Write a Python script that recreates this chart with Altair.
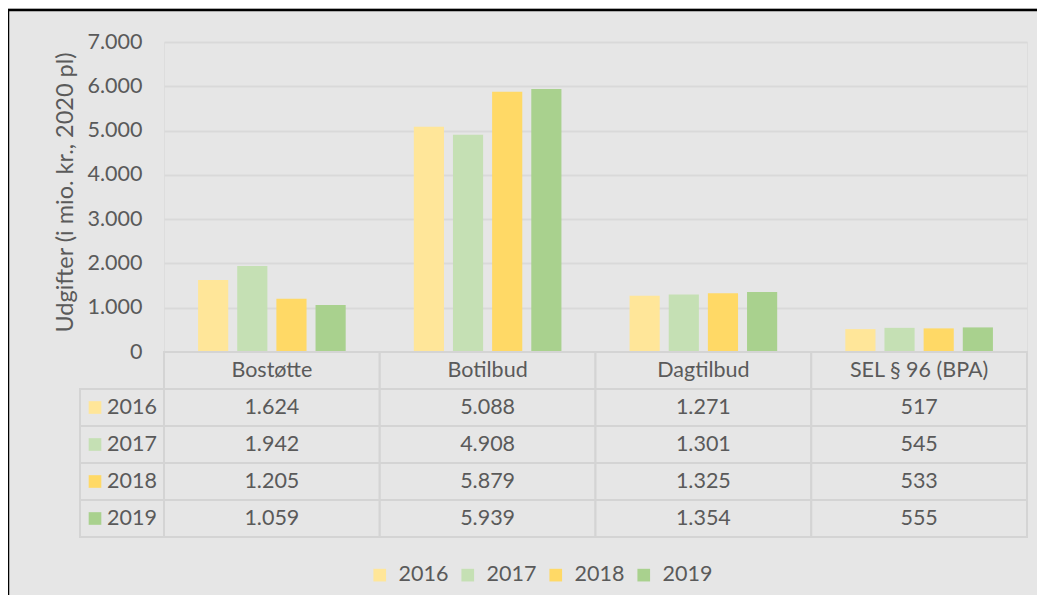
import altair as alt
import pandas as pd

categories = ["Bostøtte", "Botilbud", "Dagtilbud", "SEL § 96 (BPA)"]
years = ["2016", "2017", "2018", "2019"]
values_2016 = [1624, 5088, 1271, 517]
values_2017 = [1942, 4908, 1301, 545]
values_2018 = [1205, 5879, 1325, 533]
values_2019 = [1059, 5939, 1354, 555]
colors = ["#FFE699", "#C5E0B4", "#FFD966", "#A9D18E"]
y_ticks = [0, 1000, 2000, 3000, 4000, 5000, 6000, 7000]
y_title = "Udgifter (i mio. kr., 2020 pl)"

FONT = "Lato"
TXT = "#5a5a5a"
LINE = "#d4d4d4"
FS = 21.5

rows = []
for yr, vals in zip(years, [values_2016, values_2017, values_2018, values_2019]):
    for c, v in zip(categories, vals):
        rows.append({"Kategori": c, "År": yr, "Række": yr, "Udgift": v,
                     "Tekst": f"{v:,}".replace(",", ".")})
df = pd.DataFrame(rows)
header = pd.DataFrame({"Kategori": categories, "Række": ["hdr"] * len(categories)})
year_rows = pd.DataFrame({"År": years, "Række": years})
frame = pd.DataFrame({"k": [0]})

row_domain = ["hdr"] + years
row_scale = alt.Scale(domain=row_domain, range=[310, 495], paddingInner=0, paddingOuter=0)
x_enc = alt.X("Kategori:N", sort=categories, title=None, axis=None,
              scale=alt.Scale(domain=categories, paddingInner=0, paddingOuter=0))
color_enc = alt.Color("År:N", scale=alt.Scale(domain=years, range=colors),
                      legend=alt.Legend(title=None, orient="none", direction="horizontal",
                                        legendX=205, legendY=522, symbolType="square",
                                        symbolSize=160, symbolStrokeWidth=0,
                                        labelFontSize=FS, labelColor=TXT, labelFont=FONT,
                                        labelOffset=8, columnPadding=8))

bars = alt.Chart(df).mark_bar().encode(
    x=x_enc,
    xOffset=alt.XOffset("År:N", sort=years,
                        scale=alt.Scale(paddingInner=0.23, paddingOuter=0.87)),
    y=alt.Y("Udgift:Q", scale=alt.Scale(domain=[0, 7000], nice=False),
            axis=alt.Axis(values=y_ticks,
                          labelExpr="replace(format(datum.value, ','), ',', '.')",
                          domain=False, ticks=False, labelPadding=22,
                          labelFontSize=FS, labelColor=TXT, labelFont=FONT,
                          gridColor="#d9d9d9", gridWidth=2,
                          title=y_title, titleFontSize=23.5, titleColor=TXT,
                          titleFont=FONT, titleFontWeight="normal",
                          titleX=-99, titleY=150, titleBaseline="middle",
                          titleAngle=270)),
    color=color_enc,
)

cells = alt.Chart(pd.concat([df[["Kategori", "Række"]], header])).mark_rect(
    fill="#e6e6e6", stroke=LINE, strokeWidth=2).encode(
    x=x_enc,
    y=alt.Y("Række:N", scale=row_scale, axis=None),
)

label_cells = alt.Chart(year_rows).mark_rect(
    fill="#e6e6e6", stroke=LINE, strokeWidth=2).encode(
    x=alt.value(-84), x2=alt.value(0),
    y=alt.Y("Række:N", scale=row_scale, axis=None),
)

label_squares = alt.Chart(year_rows).mark_square(size=160, opacity=1, strokeWidth=0).encode(
    x=alt.value(-69),
    y=alt.Y("Række:N", scale=row_scale, axis=None),
    color=color_enc,
)

label_text = alt.Chart(year_rows).mark_text(
    align="left", baseline="middle", font=FONT, fontSize=FS, color=TXT).encode(
    x=alt.value(-57),
    y=alt.Y("Række:N", scale=row_scale, axis=None),
    text="År:N",
)

header_text = alt.Chart(header).mark_text(
    baseline="middle", font=FONT, fontSize=FS, color=TXT).encode(
    x=x_enc,
    y=alt.Y("Række:N", scale=row_scale, axis=None),
    text="Kategori:N",
)

value_text = alt.Chart(df).mark_text(
    baseline="middle", font=FONT, fontSize=FS, color=TXT).encode(
    x=x_enc,
    y=alt.Y("Række:N", scale=row_scale, axis=None),
    text="Tekst:N",
)

border = alt.Chart(frame).mark_rect(fill="transparent", stroke="black", strokeWidth=2.5).encode(
    x=alt.value(-156), x2=alt.value(1000),
    y=alt.value(-32), y2=alt.value(800),
)

chart = alt.layer(
    bars, cells, label_cells, label_squares, label_text, header_text, value_text, border
).resolve_scale(y="independent").properties(
    width=863, height=310,
    autosize=alt.AutoSizeParams(type="none"),
    padding={"left": 156, "top": 34, "right": 10, "bottom": 243},
    background="#e6e6e6",
).configure_view(fill="white", strokeWidth=0).configure(font=FONT)

chart.save("out.html", embed_options={"renderer": "svg", "actions": False})
